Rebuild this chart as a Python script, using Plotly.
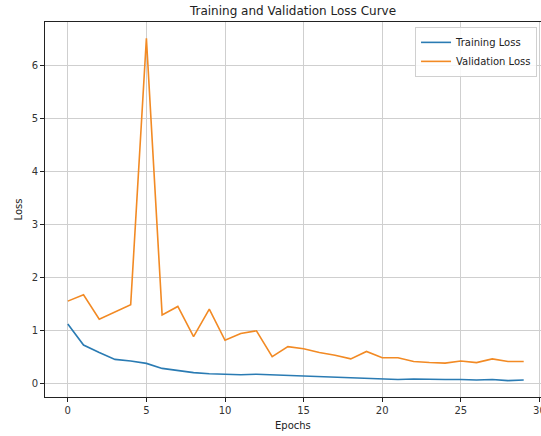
import plotly.graph_objects as go

epochs = list(range(30))
training_loss = [1.12, 0.72, 0.58, 0.45, 0.42, 0.375, 0.28, 0.24, 0.20, 0.18,
                 0.17, 0.16, 0.17, 0.16, 0.15, 0.13, 0.12, 0.11, 0.10, 0.10,
                 0.09, 0.07, 0.08, 0.07, 0.07, 0.07, 0.06, 0.07, 0.05, 0.06]
validation_loss = [1.55, 1.67, 1.21, 1.34, 1.48, 6.51, 1.29, 1.45, 0.88, 1.40,
                   0.81, 0.94, 0.99, 0.50, 0.69, 0.65, 0.58, 0.53, 0.46, 0.60,
                   0.48, 0.48, 0.41, 0.39, 0.38, 0.42, 0.39, 0.46, 0.41, 0.41]

font = "DejaVu Sans"
W, H = 541, 436
L, R, T, B = 45, 0, 22, 39

fig = go.Figure()
fig.add_trace(go.Scatter(x=epochs, y=training_loss, mode="lines", name="Training Loss",
                         line=dict(color="#2a7bb3", width=1.6)))
fig.add_trace(go.Scatter(x=epochs, y=validation_loss, mode="lines", name="Validation Loss",
                         line=dict(color="#f28a24", width=1.6)))

axis_common = dict(showline=True, linecolor="#222", linewidth=1, mirror=True,
                   ticks="outside", ticklen=4, tickcolor="#222", automargin=False,
                   showgrid=True, gridcolor="#cfcfcf", gridwidth=1, zeroline=False,
                   ticklabeloverflow="allow",
                   tickfont=dict(family=font, size=10, color="#333"))

plot_h = H - T - B
fig.update_layout(
    width=W, height=H,
    margin=dict(l=L, r=R, t=T, b=B, autoexpand=False),
    paper_bgcolor="white", plot_bgcolor="white",
    title=dict(text="Training and Validation Loss Curve", x=(L + W) / 2 / W,
               xanchor="center", y=1 - 11 / H, yanchor="middle",
               font=dict(family=font, size=12, color="#222")),
    xaxis=dict(range=[-1.45, 30.1], tickvals=[0, 5, 10, 15, 20, 25, 30], **axis_common),
    yaxis=dict(range=[-0.26, 6.82], tickvals=[0, 1, 2, 3, 4, 5, 6], **axis_common),
    legend=dict(x=0.992, y=0.987, xanchor="right", yanchor="top",
                bgcolor="rgba(255,255,255,0.85)", bordercolor="#d0d0d0", borderwidth=1,
                font=dict(family=font, size=10, color="#222"), itemwidth=30,
                tracegroupgap=0),
    showlegend=True,
    annotations=[
        dict(text="Epochs", xref="paper", yref="paper", x=0.5, y=-(425 - (H - B)) / plot_h,
             xanchor="center", yanchor="middle", showarrow=False,
             font=dict(family=font, size=10, color="#222")),
        dict(text="Loss", xref="paper", yref="paper", x=-(L - 18) / (W - L - R), y=0.5,
             xanchor="center", yanchor="middle", showarrow=False, textangle=-90,
             font=dict(family=font, size=10, color="#222")),
    ],
)

fig.write_html("out.html", config={"displayModeBar": False},
               post_script="document.body.style.margin='0';document.body.style.overflow='hidden';")
